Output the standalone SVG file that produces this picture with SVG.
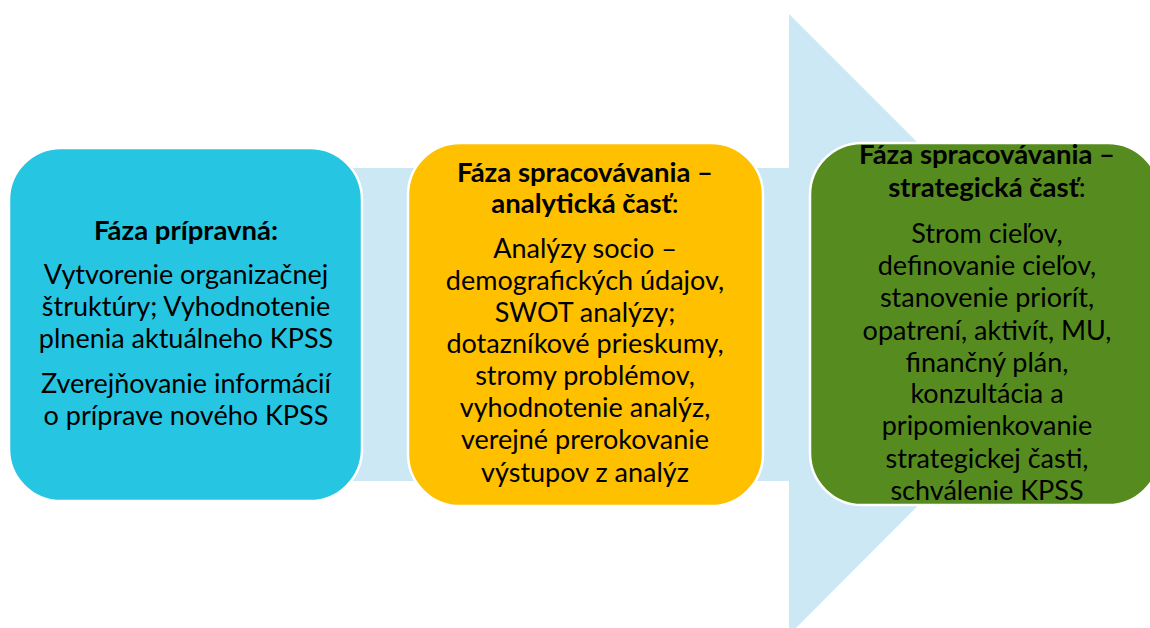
<svg xmlns="http://www.w3.org/2000/svg" width="1150" height="628" viewBox="0 0 1150 628">
<style>
.box{stroke:#ffffff;stroke-width:2.5}
text{font-family:Lato,"Open Sans","Liberation Sans",sans-serif;font-size:27px;fill:#000;text-anchor:middle}
.b{font-weight:bold;font-size:27.5px}
.n{font-weight:normal}
</style>
<rect width="1150" height="628" fill="#ffffff"/>
<g id="connectors">
<path d="M 300 168 L 789 168 L 789 14 L 1099 324 L 789 635 L 789 481 L 300 481 Z" fill="#CCE8F4"/>
</g>
<g id="node-pripravna">
<rect class="box" x="9" y="148" width="353" height="353" rx="52" fill="#26C6E3"/>
<text x="186" y="240" class="b">Fáza prípravná:</text>
<text x="186" y="284">Vytvorenie organizačnej</text>
<text x="186" y="316">štruktúry; Vyhodnotenie</text>
<text x="186" y="348">plnenia aktuálneho KPSS</text>
<text x="186" y="393">Zverejňovanie informácií</text>
<text x="186" y="425">o príprave nového KPSS</text>
</g>
<g id="node-analyticka">
<rect class="box" x="408" y="143" width="355" height="363" rx="52" fill="#FFC000"/>
<text x="585" y="182" class="b">Fáza spracovávania –</text>
<text x="585" y="213" class="b">analytická časť<tspan class="n">:</tspan></text>
<text x="585" y="258">Analýzy socio –</text>
<text x="585" y="290">demografických údajov,</text>
<text x="585" y="322">SWOT analýzy;</text>
<text x="585" y="353">dotazníkové prieskumy,</text>
<text x="585" y="385">stromy problémov,</text>
<text x="585" y="417">vyhodnotenie analýz,</text>
<text x="585" y="449">verejné prerokovanie</text>
<text x="585" y="482">výstupov z analýz</text>
</g>
<g id="node-strategicka">
<rect class="box" x="810" y="143" width="350" height="362" rx="52" fill="#568C1F"/>
<text x="987" y="164" class="b">Fáza spracovávania –</text>
<text x="987" y="197" class="b">strategická časť<tspan class="n">:</tspan></text>
<text x="987" y="243">Strom cieľov,</text>
<text x="987" y="275">definovanie cieľov,</text>
<text x="987" y="307">stanovenie priorít,</text>
<text x="987" y="340">opatrení, aktivít, MU,</text>
<text x="987" y="372">finančný plán,</text>
<text x="987" y="403">konzultácia a</text>
<text x="987" y="435">pripomienkovanie</text>
<text x="987" y="468">strategickej časti,</text>
<text x="987" y="500">schválenie KPSS</text>
</g>
</svg>
